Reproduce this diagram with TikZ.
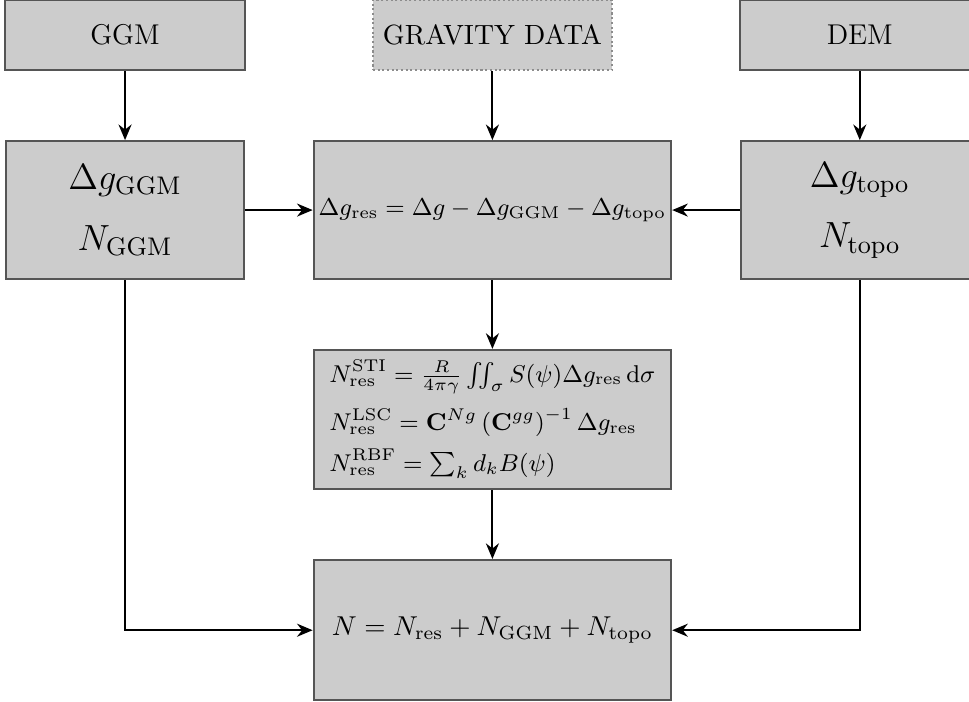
\RequirePackage{fix-cm}
\documentclass[tikz,border=0pt]{standalone}
\usepackage{amsmath,amssymb}
\usetikzlibrary{arrows.meta,positioning}
\definecolor{boxfill}{RGB}{204,204,204}
\definecolor{boxedge}{RGB}{85,85,85}
\definecolor{dotedge}{RGB}{140,140,140}

\begin{document}
\begin{tikzpicture}[>={Stealth[length=6pt,width=5pt]},node distance=26.5pt and 26pt,
    box/.style={draw=boxedge,line width=0.8pt,fill=boxfill,align=center,inner sep=1pt},
    flow/.style={->,line width=0.8pt}]
  \useasboundingbox (-189.4pt,-189.2pt) rectangle (183.3pt,80.8pt);
  \node[box,minimum width=137.5pt,minimum height=53pt,font=\fontsize{9.35}{11.2}\selectfont] (resid) {$\Delta g_{\mathrm{res}} = \Delta g - \Delta g_{\mathrm{GGM}} - \Delta g_{\mathrm{topo}}$};
  \node[box,minimum width=91.5pt,minimum height=53pt,font=\fontsize{14}{16.8}\selectfont,left=of resid] (ggmres) {$\Delta g_{\mathrm{GGM}}$\\[6.5pt]$N_{\mathrm{GGM}}$};
  \node[box,minimum width=91.5pt,minimum height=53pt,font=\fontsize{14}{16.8}\selectfont,right=of resid] (topo) {$\Delta g_{\mathrm{topo}}$\\[6.5pt]$N_{\mathrm{topo}}$};
  \node[box,minimum width=92pt,minimum height=27pt,font=\fontsize{11}{13}\selectfont,above=of ggmres] (ggm) {GGM};
  \node[box,draw=dotedge,densely dotted,minimum width=92pt,minimum height=27pt,font=\fontsize{10.7}{13}\selectfont,above=of resid] (grav) {GRAVITY DATA};
  \node[box,minimum width=92pt,minimum height=27pt,font=\fontsize{11}{13}\selectfont,above=of topo] (dem) {DEM};
  \node[box,minimum width=137.5pt,minimum height=53.5pt,align=left,font=\fontsize{9.35}{11.2}\selectfont,below=of resid] (pred) {$N_{\mathrm{res}}^{\mathrm{STI}} = \frac{R}{4\pi\gamma}\iint_{\sigma} S(\psi)\Delta g_{\mathrm{res}}\,\mathrm{d}\sigma$\\[4.5pt]
    $N_{\mathrm{res}}^{\mathrm{LSC}} = \mathbf{C}^{Ng}\left(\mathbf{C}^{gg}\right)^{-1}\Delta g_{\mathrm{res}}$\\[4.5pt]
    $N_{\mathrm{res}}^{\mathrm{RBF}} = \sum_{k} d_k B(\psi)$};
  \node[box,minimum width=137.5pt,minimum height=54pt,font=\fontsize{10.5}{12.6}\selectfont,below=of pred] (final) {$N = N_{\mathrm{res}} + N_{\mathrm{GGM}} + N_{\mathrm{topo}}$};
  \draw[flow] (ggm) -- (ggmres);
  \draw[flow] (grav) -- (resid);
  \draw[flow] (dem) -- (topo);
  \draw[flow] (ggmres) -- (resid);
  \draw[flow] (topo) -- (resid);
  \draw[flow] (resid) -- (pred);
  \draw[flow] (pred) -- (final);
  \draw[flow] (ggmres.south) |- (final.west);
  \draw[flow] (topo.south) |- (final.east);
\end{tikzpicture}
\end{document}
